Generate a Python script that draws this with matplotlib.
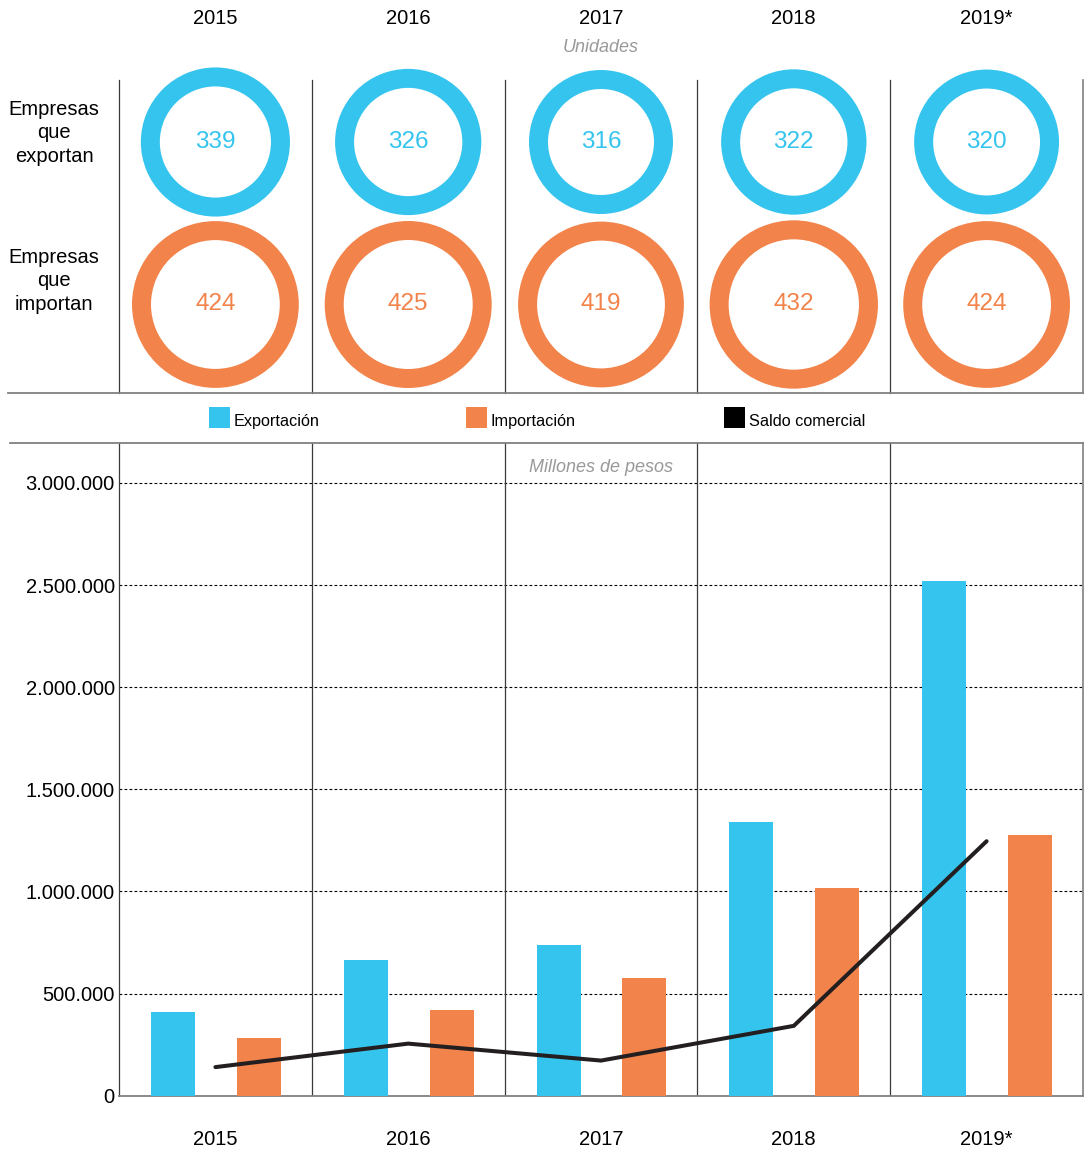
import matplotlib
matplotlib.use("Agg")
import matplotlib.pyplot as plt
from matplotlib.patches import Wedge, Rectangle
from matplotlib.lines import Line2D
from matplotlib.ticker import FuncFormatter
import numpy as np

# ---------------- data ----------------
years = ["2015", "2016", "2017", "2018", "2019*"]
empresas_exportan = [339, 326, 316, 322, 320]
empresas_importan = [424, 425, 419, 432, 424]
exportacion = [409000, 662000, 740000, 1339000, 2520000]
importacion = [282000, 421000, 574000, 1016000, 1275000]
saldo = [140000, 255000, 172000, 342000, 1246000]
yticks = [0, 500000, 1000000, 1500000, 2000000, 2500000, 3000000]

BLUE = "#35C4EE"
ORANGE = "#F2834A"
DARK = "#231F20"
GRAY = "#808080"
FONT = "Liberation Sans"
plt.rcParams["font.family"] = [FONT, "DejaVu Sans"]

W, H = 1087, 1151
fig = plt.figure(figsize=(W / 100, H / 100), dpi=100)
fig.patch.set_facecolor("white")

def fx(x):
    return x / W

def fy(y):
    return 1 - y / H

n = len(years)

# ---------------- top section: rings ----------------
top_h = 313
unit = 964 / n  # px per column
ax_top = fig.add_axes([fx(119), fy(393), 964 / W, top_h / H])
ax_top.set_xlim(0, n)
ax_top.set_ylim(0, top_h / unit)
ax_top.set_aspect("equal")
ax_top.axis("off")

row_exp = (393 - 142) / unit
row_imp = (393 - 304.5) / unit
k = 4.05 / unit
ring_w = 19 / unit
for i in range(n):
    cx = i + 0.5
    r = k * np.sqrt(empresas_exportan[i])
    ax_top.add_patch(Wedge((cx, row_exp), r, 0, 360, width=ring_w,
                           facecolor=BLUE, edgecolor="none", clip_on=False))
    ax_top.text(cx, row_exp, str(empresas_exportan[i]), color=BLUE,
                ha="center", va="center", fontsize=17.5)
    r = k * np.sqrt(empresas_importan[i])
    ax_top.add_patch(Wedge((cx, row_imp), r, 0, 360, width=ring_w,
                           facecolor=ORANGE, edgecolor="none", clip_on=False))
    ax_top.text(cx, row_imp, str(empresas_importan[i]), color=ORANGE,
                ha="center", va="center", fontsize=17.5)

for i in range(n):
    ax_top.plot([i, i], [0, top_h / unit], color="#3a3a3a", lw=0.9,
                clip_on=False)
ax_top.plot([n, n], [0, top_h / unit], color=GRAY, lw=1.2, clip_on=False)

# year headers
for i, yr in enumerate(years):
    fig.text(fx(119 + unit * (i + 0.5)), fy(18), yr, ha="center",
             va="center", fontsize=14.5, color="black")
fig.text(fx(601), fy(48), "Unidades", ha="center", va="center",
         fontsize=13, style="italic", color="#999999")

fig.text(fx(54), fy(133), "Empresas\nque\nexportan", ha="center",
         va="center", fontsize=14.5, linespacing=1.3)
fig.text(fx(54), fy(281), "Empresas\nque\nimportan", ha="center",
         va="center", fontsize=14.5, linespacing=1.3)

# separators
fig.add_artist(Line2D([fx(8), fx(1083)], [fy(393), fy(393)], color=GRAY,
                      lw=1.3))
fig.add_artist(Line2D([fx(10), fx(1083)], [fy(443), fy(443)], color=GRAY,
                      lw=1.3))

# legend
leg = [("Exportación", BLUE, 209), ("Importación", ORANGE, 466),
       ("Saldo comercial", "black", 724)]
for label, col, x0 in leg:
    fig.add_artist(Rectangle((fx(x0), fy(428)), 21 / W, 21 / H,
                             facecolor=col, edgecolor="none",
                             transform=fig.transFigure))
    fig.text(fx(x0 + 25), fy(422), label, ha="left", va="center",
             fontsize=11.7)

# ---------------- bottom section: bars ----------------
ymax = 3000000 * (1095.7 - 443) / (1095.7 - 483)
ax = fig.add_axes([fx(119), fy(1095.7), 964 / W, 652.7 / H])
ax.set_xlim(0, n)
ax.set_ylim(0, ymax)
x = np.arange(n)
bw = 44 / unit
ax.bar(x + 0.5 - 0.22, exportacion, width=bw, color=BLUE, zorder=3)
ax.bar(x + 0.5 + 0.225, importacion, width=bw, color=ORANGE, zorder=3)
ax.plot(x + 0.5, saldo, color=DARK, lw=2.9, zorder=4,
        solid_capstyle="round", solid_joinstyle="miter")

for v in yticks[1:]:
    ax.axhline(v, color="black", lw=0.8, ls=(0, (2.5, 2)), zorder=1)
for i in range(1, n):
    ax.axvline(i, color="#3a3a3a", lw=0.9, zorder=2)

ax.set_yticks(yticks)
ax.yaxis.set_major_formatter(FuncFormatter(
    lambda v, p: f"{int(v):,}".replace(",", ".")))
ax.set_xticks(x + 0.5)
ax.set_xticklabels(years)
ax.tick_params(axis="y", length=0, pad=3, labelsize=14.5)
ax.tick_params(axis="x", length=0, pad=25, labelsize=14.5)
ax.spines["top"].set_visible(False)
ax.spines["left"].set_color("#3a3a3a")
ax.spines["left"].set_linewidth(0.9)
ax.spines["bottom"].set_color(GRAY)
ax.spines["bottom"].set_linewidth(1.3)
ax.spines["right"].set_color(GRAY)
ax.spines["right"].set_linewidth(1.2)

fig.text(fx(601), fy(468), "Millones de pesos", ha="center", va="center",
         fontsize=13, style="italic", color="#999999")

fig.savefig("out.png", dpi=100, facecolor="white")
